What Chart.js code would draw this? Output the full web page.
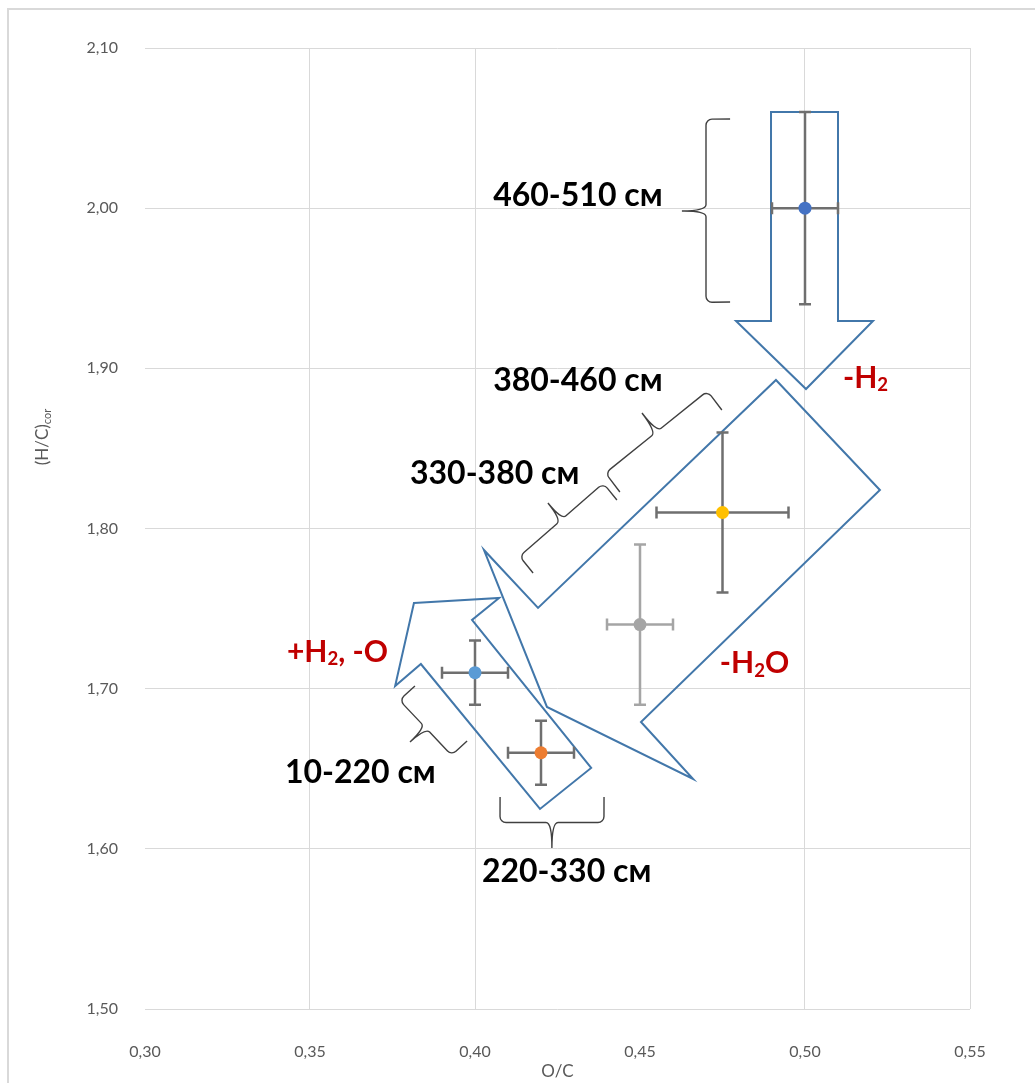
<!DOCTYPE html>
<html>
<head>
<meta charset="utf-8">
<script src="https://cdn.jsdelivr.net/npm/chart.js@4.4.1/dist/chart.umd.min.js"></script>
<style>
  html, body { margin: 0; padding: 0; background: #fff; }
  #wrap { width: 1035px; height: 1083px; position: relative; }
</style>
</head>
<body>
<div id="wrap"><canvas id="grafico" width="1035" height="1083"></canvas></div>
<script>
// Points: O/C vs (H/C)cor for each depth interval
const ocValues = [0.50, 0.475, 0.45, 0.40, 0.42];
const hcValues = [2.00, 1.81, 1.74, 1.71, 1.66];
const ocErrLow  = [0.49, 0.455, 0.44, 0.39, 0.41];
const ocErrHigh = [0.51, 0.495, 0.46, 0.41, 0.43];
const hcErrLow  = [1.94, 1.76, 1.69, 1.69, 1.64];
const hcErrHigh = [2.06, 1.86, 1.79, 1.73, 1.68];

// Tick labels
const xTickLabels = ['0,30', '0,35', '0,40', '0,45', '0,50', '0,55'];
const yTickLabels = ['1,50', '1,60', '1,70', '1,80', '1,90', '2,00', '2,10'];

// Arrow outlines (in O/C, H/C units)
const arrowDown = [[0.4897, 2.060], [0.5100, 2.060], [0.5100, 1.9296], [0.5206, 1.9296],
                   [0.5003, 1.8871], [0.4791, 1.9296], [0.4897, 1.9296]];
const arrowDiag = [[0.4912, 1.8927], [0.5227, 1.8240], [0.4503, 1.6792], [0.4661, 1.6436],
                   [0.4218, 1.6886], [0.4027, 1.7866], [0.4191, 1.7504]];
const arrowSmall = [[0.3815, 1.7535], [0.4073, 1.7566], [0.3991, 1.7429], [0.4352, 1.6505],
                    [0.4197, 1.6249], [0.3836, 1.7154], [0.3758, 1.7017]];

// Braces: two ends and the tip
const braceEnds = [
  [[0.4773, 2.0557], [0.4773, 1.9414]],
  [[0.4176, 1.7722], [0.4430, 1.8178]],
  [[0.4439, 1.8228], [0.4748, 1.8740]],
  [[0.3818, 1.7017], [0.3976, 1.6673]],
  [[0.4076, 1.6324], [0.4391, 1.6324]]
];
const braceTips = [[0.4627, 1.9982], [0.4221, 1.8159], [0.4506, 1.8721], [0.3803, 1.6667], [0.4233, 1.6005]];

// Annotation texts ('_' marks a subscript part)
const labelTexts = [['460-510 см'], ['380-460 см'], ['330-380 см'], ['10-220 см'], ['220-330 см'],
                    ['-H', '_2'], ['+H', '_2', ', -O'], ['-H', '_2', 'O']];
const labelPos = [[0.4055, 2.0076], [0.4055, 1.8921], [0.3803, 1.8340], [0.3424, 1.6474], [0.4021, 1.5855],
                  [0.5115, 1.8940], [0.3430, 1.7229], [0.4742, 1.7160]];
const labelRed = [false, false, false, false, false, true, true, true];

function toPx(chart, p) {
    return [chart.scales.x.getPixelForValue(p[0]), chart.scales.y.getPixelForValue(p[1])];
}

function drawBrace(ctx, A, B, T) {
    const M = [(A[0] + B[0]) / 2, (A[1] + B[1]) / 2];
    const s = [(T[0] - M[0]) * 0.5, (T[1] - M[1]) * 0.5];
    const len = Math.hypot(B[0] - A[0], B[1] - A[1]);
    const u = [(B[0] - A[0]) / len, (B[1] - A[1]) / len];
    const As = [A[0] + s[0], A[1] + s[1]];
    const Bs = [B[0] + s[0], B[1] + s[1]];
    const Ms = [M[0] + s[0], M[1] + s[1]];
    const r = 6;
    ctx.beginPath();
    ctx.moveTo(A[0], A[1]);
    ctx.arcTo(As[0], As[1], Ms[0], Ms[1], r);
    ctx.lineTo(Ms[0] - u[0] * r, Ms[1] - u[1] * r);
    ctx.quadraticCurveTo(Ms[0], Ms[1], T[0], T[1]);
    ctx.quadraticCurveTo(Ms[0], Ms[1], Ms[0] + u[0] * r, Ms[1] + u[1] * r);
    ctx.arcTo(Bs[0], Bs[1], B[0], B[1], r);
    ctx.lineTo(B[0], B[1]);
    ctx.stroke();
}

function drawParts(ctx, parts, x, y, size) {
    let cx = x;
    parts.forEach(p => {
        const sub = p.startsWith('_');
        const t = sub ? p.slice(1) : p;
        const fs = sub ? size * 0.62 : size;
        ctx.font = 'bold ' + fs + 'px Lato';
        ctx.fillText(t, cx, sub ? y + size * 0.25 : y);
        cx += ctx.measureText(t).width;
    });
}

const annotations = {
    id: 'annotations',
    beforeDraw(chart) {
        const ctx = chart.ctx;
        ctx.save();
        ctx.fillStyle = '#fff';
        ctx.fillRect(0, 0, chart.width, chart.height);
        ctx.strokeStyle = '#d9d9d9';
        ctx.lineWidth = 2;
        ctx.strokeRect(8, 9, 1100, 1200);
        ctx.restore();
    },
    beforeDatasetsDraw(chart) {
        const ctx = chart.ctx;
        ctx.save();
        // arrows
        ctx.strokeStyle = '#4277aa';
        ctx.lineWidth = 2;
        ctx.lineJoin = 'miter';
        [arrowDown, arrowDiag, arrowSmall].forEach(shape => {
            ctx.beginPath();
            shape.forEach((p, i) => {
                const q = toPx(chart, p);
                if (i === 0) ctx.moveTo(q[0], q[1]); else ctx.lineTo(q[0], q[1]);
            });
            ctx.closePath();
            ctx.stroke();
        });
        // braces
        ctx.strokeStyle = '#404040';
        ctx.lineWidth = 1.4;
        braceEnds.forEach((e, i) => {
            drawBrace(ctx, toPx(chart, e[0]), toPx(chart, e[1]), toPx(chart, braceTips[i]));
        });
        // error bars
        const errColors = ['#6f6f6f', '#6f6f6f', '#a5a5a5', '#6f6f6f', '#6f6f6f'];
        const xs = chart.scales.x, ys = chart.scales.y;
        const cap = 6;
        ctx.lineWidth = 2.5;
        ocValues.forEach((v, i) => {
            const cx = xs.getPixelForValue(v), cy = ys.getPixelForValue(hcValues[i]);
            const x1 = xs.getPixelForValue(ocErrLow[i]), x2 = xs.getPixelForValue(ocErrHigh[i]);
            const y1 = ys.getPixelForValue(hcErrLow[i]), y2 = ys.getPixelForValue(hcErrHigh[i]);
            ctx.strokeStyle = errColors[i];
            ctx.beginPath();
            ctx.moveTo(x1, cy); ctx.lineTo(x2, cy);
            ctx.moveTo(x1, cy - cap); ctx.lineTo(x1, cy + cap);
            ctx.moveTo(x2, cy - cap); ctx.lineTo(x2, cy + cap);
            ctx.moveTo(cx, y1); ctx.lineTo(cx, y2);
            ctx.moveTo(cx - cap, y1); ctx.lineTo(cx + cap, y1);
            ctx.moveTo(cx - cap, y2); ctx.lineTo(cx + cap, y2);
            ctx.stroke();
        });
        ctx.restore();
    },
    afterDraw(chart) {
        const ctx = chart.ctx;
        ctx.save();
        ctx.textBaseline = 'middle';
        ctx.textAlign = 'left';
        labelTexts.forEach((parts, i) => {
            const q = toPx(chart, labelPos[i]);
            ctx.fillStyle = labelRed[i] ? '#c00000' : '#000';
            drawParts(ctx, parts, q[0], q[1], labelRed[i] ? 30 : 32);
        });
        // y axis title with subscript
        ctx.translate(43, 437);
        ctx.rotate(-Math.PI / 2);
        ctx.fillStyle = '#595959';
        ctx.font = '17px Lato';
        const w1 = ctx.measureText('(H/C)').width;
        ctx.font = '11px Lato';
        const w2 = ctx.measureText('cor').width;
        const x0 = -(w1 + w2) / 2;
        ctx.font = '17px Lato';
        ctx.fillText('(H/C)', x0, 0);
        ctx.font = '11px Lato';
        ctx.fillText('cor', x0 + w1, 4);
        ctx.restore();
    }
};

new Chart(document.getElementById('grafico'), {
    type: 'scatter',
    data: {
        datasets: [{
            data: ocValues.map((v, i) => ({ x: v, y: hcValues[i] })),
            backgroundColor: ['#4472c4', '#ffc000', '#a5a5a5', '#5b9bd5', '#ed7d31'],
            borderWidth: 0,
            pointRadius: 6.5,
            pointHoverRadius: 6.5
        }]
    },
    options: {
        responsive: false,
        animation: false,
        layout: { padding: { left: 0, top: 48, right: 65, bottom: 0 } },
        plugins: {
            legend: { display: false },
            tooltip: { enabled: false }
        },
        scales: {
            x: {
                type: 'linear',
                min: 0.30,
                max: 0.55,
                afterFit: s => { s.height = 74; },
                ticks: {
                    stepSize: 0.05,
                    padding: 33,
                    color: '#595959',
                    font: { family: 'Lato', size: 16 },
                    callback: (v, i) => xTickLabels[i]
                },
                grid: {
                    drawTicks: false,
                    lineWidth: 1,
                    color: c => {
                        const v = c.tick ? c.tick.value : 0;
                        if (Math.abs(v - 0.30) < 1e-6 || Math.abs(v - 0.45) < 1e-6) return 'rgba(0,0,0,0)';
                        return '#d9d9d9';
                    }
                },
                border: { display: false },
                title: {
                    display: true,
                    text: 'O/C',
                    color: '#595959',
                    font: { family: 'Lato', size: 17 },
                    padding: { top: 0, bottom: 1 }
                }
            },
            y: {
                min: 1.5,
                max: 2.1,
                afterFit: s => { s.width = 145; },
                ticks: {
                    stepSize: 0.1,
                    padding: 27,
                    color: '#595959',
                    font: { family: 'Lato', size: 16 },
                    callback: (v, i) => yTickLabels[i]
                },
                grid: { drawTicks: false, color: '#d9d9d9', lineWidth: 1 },
                border: { display: false }
            }
        }
    },
    plugins: [annotations]
});
</script>
</body>
</html>
